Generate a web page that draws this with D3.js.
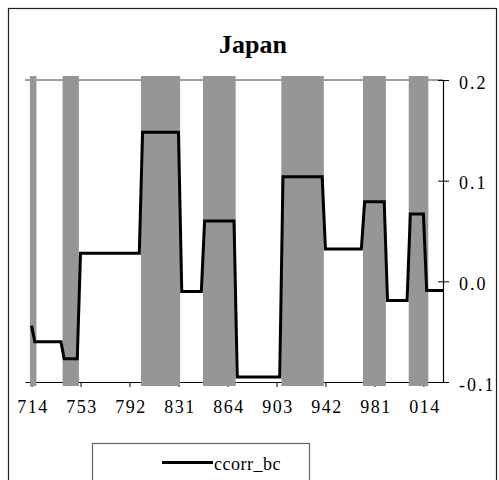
<!DOCTYPE html>
<html>
<head>
<meta charset="utf-8">
<script src="https://cdn.jsdelivr.net/npm/d3@7"></script>
<style>
  body { margin: 0; background: #fff; }
  svg text { font-family: "Liberation Serif", "Times New Roman", serif; fill: #000; }
</style>
</head>
<body>
<svg id="chart" width="499" height="480"></svg>
<script>
// quarter index 0 = 1971Q4, one step per quarter
// ccorr_bc is constant over phases: [start quarter, end quarter, value]
const phaseStart = [0, 1, 10, 15, 34, 46, 53, 63, 77, 90, 102, 109, 116, 121];
const phaseEnd   = [0, 9, 14, 33, 45, 52, 62, 76, 89, 101, 108, 115, 120, 126];
const phaseValue = [-0.044, -0.060, -0.077, 0.028, 0.148, -0.010, 0.060,
                    -0.095, 0.104, 0.032, 0.079, -0.019, 0.067, -0.009];

// shaded (recession) quarters
const shadeStart = [0, 10, 34, 53, 77, 102, 116];
const shadeEnd   = [1, 14, 45, 62, 89, 108, 121];

const tickQuarters = [0, 15, 30, 45, 60, 75, 90, 105, 120];
const tickLabels = ["714", "753", "792", "831", "864", "903", "942", "981", "014"];
const yTicks = [0.2, 0.1, 0.0, -0.1];

const seriesName = "ccorr_bc";
const title = "Japan";

// build quarterly points from the phases
const points = [];
phaseStart.forEach((s, i) => {
  for (let q = s; q <= phaseEnd[i]; q++) points.push({ q: q, v: phaseValue[i] });
});

const svg = d3.select("#chart");

const x = d3.scaleLinear().domain([-2, 126]).range([25, 443]);
const y = d3.scaleLinear().domain([-0.1, 0.2]).range([382, 80]);

// outer frame
svg.append("rect")
  .attr("x", 8.5).attr("y", 8.5)
  .attr("width", 488).attr("height", 490)
  .attr("fill", "none").attr("stroke", "#222").attr("stroke-width", 1.2);

svg.append("text")
  .attr("x", 253).attr("y", 53)
  .attr("text-anchor", "middle")
  .attr("font-size", 26).attr("font-weight", "bold")
  .text(title);

// top border line of plot
svg.append("line")
  .attr("x1", x.range()[0]).attr("x2", x.range()[1])
  .attr("y1", y(0.2)).attr("y2", y(0.2))
  .attr("stroke", "#444").attr("stroke-width", 1.2);

// x axis
const xAxis = d3.axisBottom(x)
  .tickValues(tickQuarters)
  .tickSizeInner(5).tickSizeOuter(0)
  .tickFormat((d, i) => tickLabels[i]);

const gx = svg.append("g")
  .attr("transform", `translate(0,${y(-0.1)})`)
  .call(xAxis);
gx.select(".domain").attr("stroke", "#000").attr("stroke-width", 1.2);
gx.selectAll(".tick line").attr("stroke", "#000");
gx.selectAll(".tick text")
  .attr("y", 18.5)
  .attr("dx", 1)
  .attr("font-size", 18)
  .attr("letter-spacing", 1.5);

// right y axis
const yAxis = d3.axisRight(y)
  .tickValues(yTicks)
  .tickSizeInner(6).tickSizeOuter(0)
  .tickFormat(d => d.toFixed(1));

const gy = svg.append("g")
  .attr("transform", `translate(${x.range()[1]},0)`)
  .call(yAxis);
gy.select(".domain").attr("stroke", "#000").attr("stroke-width", 1.2);
gy.selectAll(".tick line").attr("x1", -5).attr("stroke", "#000");
gy.selectAll(".tick text")
  .attr("x", 16)
  .attr("dy", "0.46em")
  .attr("font-size", 18)
  .attr("letter-spacing", 2);

// shaded bands
svg.append("g")
  .selectAll("rect")
  .data(shadeStart.map((s, i) => ({ s: s, e: shadeEnd[i] })))
  .join("rect")
  .attr("x", d => x(d.s - 0.5))
  .attr("width", d => x(d.e + 0.5) - x(d.s - 0.5))
  .attr("y", y(0.2) - 4)
  .attr("height", y(-0.1) - y(0.2) + 8)
  .attr("fill", "#969696");

// series line
const line = d3.line()
  .x(d => x(d.q))
  .y(d => y(d.v));

svg.append("path")
  .datum(points)
  .attr("d", line)
  .attr("fill", "none")
  .attr("stroke", "#000")
  .attr("stroke-width", 3)
  .attr("stroke-linejoin", "miter");

// legend
const legend = svg.append("g");
legend.append("rect")
  .attr("x", 92.5).attr("y", 443.5)
  .attr("width", 217).attr("height", 60)
  .attr("fill", "#fff").attr("stroke", "#666").attr("stroke-width", 1.2);
legend.append("line")
  .attr("x1", 162).attr("x2", 213)
  .attr("y1", 462.5).attr("y2", 462.5)
  .attr("stroke", "#000").attr("stroke-width", 3);
legend.append("text")
  .attr("x", 214).attr("y", 469.5)
  .attr("font-size", 18)
  .attr("letter-spacing", 0.5)
  .text(seriesName);
</script>
</body>
</html>
